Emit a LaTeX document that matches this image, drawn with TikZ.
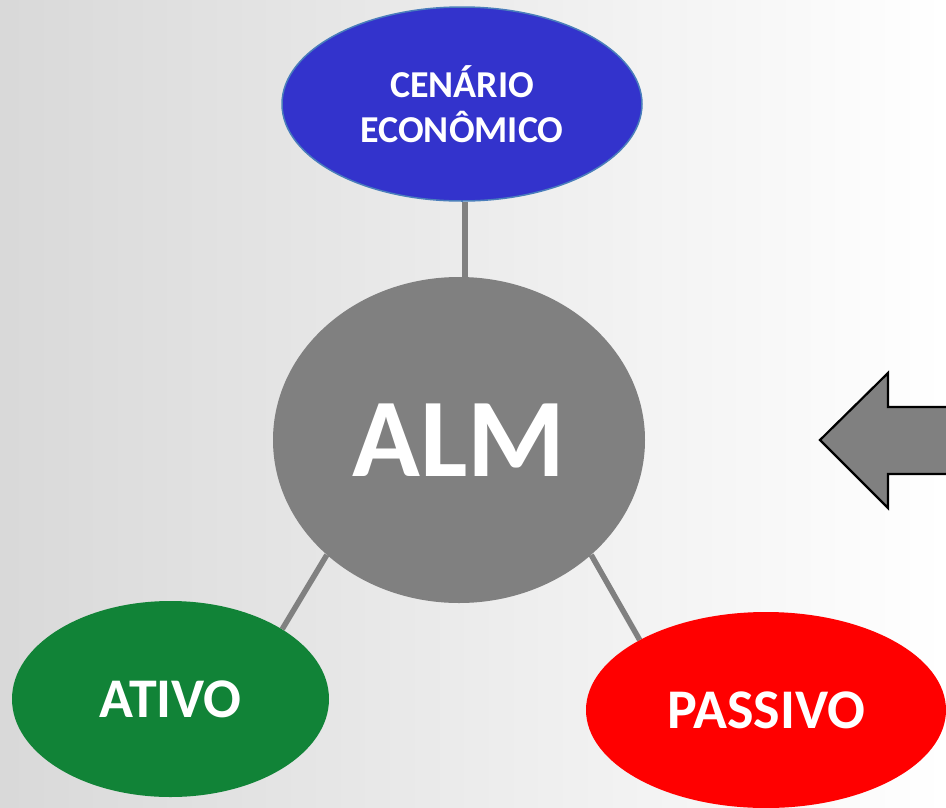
\documentclass[tikz,border=0pt]{standalone}
\usepackage{fontspec}
\setmainfont{Carlito}
\usetikzlibrary{shapes.geometric}
\definecolor{cenblue}{HTML}{3333CC}
\definecolor{cenedge}{HTML}{4A7EBB}
\definecolor{ativogreen}{HTML}{118337}
\definecolor{passred}{HTML}{FF0000}
\definecolor{almgray}{HTML}{808080}
\pgfdeclarelayer{bg}
\pgfdeclarelayer{lines}
\pgfsetlayers{bg,lines,main}
\tikzset{
  bubble/.style={ellipse, inner sep=0pt, text=white, font=\bfseries, align=center},
  link/.style={draw=almgray, line width=5.5pt},
  bigarrow/.style={fill=almgray, draw=black, line width=2.2pt, line join=miter}
}
\begin{document}
\begin{tikzpicture}[x=1pt,y=-1pt]
\useasboundingbox (0,0) rectangle (946,807);
\begin{pgfonlayer}{bg}
  \clip (0,0) rectangle (946,807);
  \shade[left color=black!15, right color=white] (0,0) rectangle (946,807);
\end{pgfonlayer}
\clip (0,0) rectangle (946,807);
\node[bubble, fill=cenblue, draw=cenedge, line width=1.5pt, minimum width=360pt, minimum height=194pt,
      font=\bfseries\fontsize{38}{45}\selectfont] (cen) at (462,104) {CENÁRIO\\ECONÔMICO};
\node[bubble, fill=almgray, minimum width=372pt, minimum height=326pt,
      font=\bfseries\fontsize{112}{120}\selectfont] (alm) at (459,440) {ALM};
\node[bubble, fill=ativogreen, minimum width=317pt, minimum height=196pt,
      font=\bfseries\fontsize{56}{64}\selectfont] (ativo) at (170.5,699) {ATIVO};
\node[bubble, fill=passred, minimum width=360pt, minimum height=196pt,
      font=\bfseries\fontsize{56}{64}\selectfont] (passivo) at (766,710) {PASSIVO};
\begin{pgfonlayer}{lines}
  \clip (0,0) rectangle (946,807);
  \draw[link] ([xshift=3pt]cen.south) -- ([xshift=3pt]cen.south |- alm.north);
  \draw[link] (alm.221.5) -- (ativo.32);
  \draw[link] (alm.-41) -- (passivo.151);
\end{pgfonlayer}
\coordinate (tip) at (820,440);
\draw[bigarrow] (960,407) -- (888,407) -- (888,373) -- (tip) -- (888,508) -- (888,474) -- (960,474) -- cycle;
\end{tikzpicture}
\end{document}
